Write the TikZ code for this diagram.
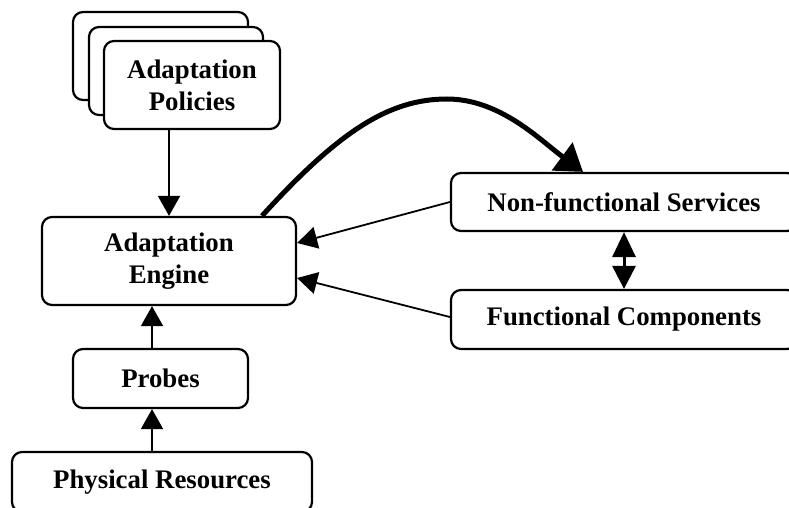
\documentclass[tikz,border=0pt]{standalone}
\usepackage{fontspec}
\setmainfont{Liberation Serif}
\usetikzlibrary{arrows.meta}
\tikzset{
  box/.style={draw, line width=2.2pt, rounded corners=10pt, align=center, inner sep=0pt, fill=white},
  arr/.style={line width=1.8pt, -{Triangle[length=20pt,width=22pt]}},
  dblarr/.style={line width=3pt, {Triangle[length=25pt,width=23pt]}-{Triangle[length=23pt,width=23pt]}},
  bigarr/.style={line width=5pt, -{Triangle[length=26pt,width=34pt]}},
}
\begin{document}
\begin{tikzpicture}[x=1pt,y=-1pt,font=\bfseries\fontsize{26.8}{32}\selectfont]
\clip (0,0) rectangle (789,508);
\fill[white] (0,0) rectangle (789,508);
\node[box, minimum width=175pt, minimum height=88pt] (pol3) at (160.5,56) {};
\node[box, minimum width=174pt, minimum height=88pt] (pol2) at (176,71) {};
\node[box, minimum width=176pt, minimum height=88pt] (pol) at (192,85) {Adaptation\\Policies};
\node[box, minimum width=254pt, minimum height=88pt] (engine) at (169,261) {Adaptation\\Engine};
\node[box, minimum width=175pt, minimum height=59pt] (probes) at (160.5,378.5) {Probes};
\node[box, minimum width=300pt, minimum height=60pt] (phys) at (162,482) {Physical Resources};
\node[box, minimum width=346pt, minimum height=58pt] (nf) at (624,202) {Non-functional Services};
\node[box, minimum width=346pt, minimum height=59pt] (fc) at (624,319.5) {Functional Components};

\draw[arr] (pol.south -| engine.north) -- (engine.north);
\draw[arr] ([xshift=-8.5pt]probes.north) -- ([xshift=-8.5pt]probes.north |- engine.south);
\draw[arr] ([xshift=-8.5pt]probes.south |- phys.north) -- ([xshift=-8.5pt]probes.south);
\draw[arr] (nf.west) -- (engine.east |- 0,243);
\draw[arr] (fc.west |- 0,317) -- (engine.east |- 0,278);
\draw[dblarr] (nf.south) -- (fc.north);
\coordinate (cs) at (engine.north -| 262,0);
\coordinate (ce) at (nf.north -| 583,0);
\draw[bigarr] (cs) .. controls (340,130) and (390,99) .. (447,99) .. controls (500,99) and (540,140) .. (ce);
\end{tikzpicture}
\end{document}
